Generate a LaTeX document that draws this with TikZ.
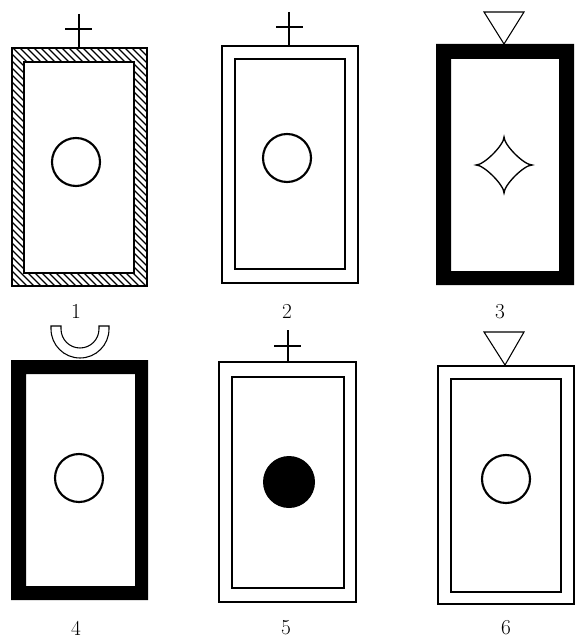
\documentclass[tikz,border=0pt]{standalone}
\usepackage{tikz}
\usetikzlibrary{arrows.meta,positioning,calc}
\tikzset{
  frameline/.style={line width=1.1pt},
  bead/.style={line width=1.6pt},
  marker/.style={line width=0.8pt},
  hatch/.style={line width=0.9pt},
  numlabel/.style={font=\fontsize{16}{19}\selectfont,inner sep=1pt}
}

\begin{document}
\begin{tikzpicture}[x=0.75pt,y=-0.75pt]
  \useasboundingbox (0,0) rectangle (583,641);
  % 1: hatched frame
  \begin{scope}
    \clip (12,48) rectangle (147,286);
    \foreach \k in {-301,-294,...,150}
      \draw[hatch] (\k,0) -- ++(320,320);
  \end{scope}
  \fill[white] (24,62) rectangle (134,273);
  \draw[frameline] (12,48) rectangle (147,286);
  \draw[frameline] (24,62) rectangle (134,273);
  \draw[bead] (76,162) circle (24);
  \draw[marker] (79,14) -- (79,48);
  \draw[marker] (65,29) -- (92,29);
  \node[numlabel] (lab1) at (76,311) {1};
  % 2: double frame
  \draw[frameline] (222,46) rectangle (358,283);
  \draw[frameline] (235,59) rectangle (345,269);
  \draw[bead] (287,158) circle (24);
  \draw[marker] (289,12) -- (289,46);
  \draw[marker] (276,27) -- (303,27);
  \node[numlabel] (lab2) at (287,311) {2};
  % 3: heavy frame, star
  \fill[even odd rule] (436,44) rectangle (574,285) (451,59) rectangle (559,271);
  \draw[line width=1pt] (476,165) .. controls (484,165) and (504,145) .. (504,137)
    .. controls (504,145) and (524,165) .. (532,165)
    .. controls (524,165) and (504,185) .. (504,193)
    .. controls (504,185) and (484,165) .. cycle;
  \draw[marker] (484,12) -- (524,12) -- (504,44) -- cycle;
  \node[numlabel] (lab3) at (500,312) {3};
  % 4: heavy frame, cup
  \fill[even odd rule] (11,360) rectangle (148,600) (26,374) rectangle (135,586);
  \draw[bead] (79,478) circle (24);
  \draw[marker] (51,326) -- (51,329) arc[start angle=180,end angle=0,radius=29]
    -- (109,326) -- (99,326) -- (99,329) arc[start angle=0,end angle=180,radius=19]
    -- (61,326) -- cycle;
  \node[numlabel] (lab4) at (76,628) {4};
  % 5: double frame, full dot
  \draw[frameline] (219,362) rectangle (356,602);
  \draw[frameline] (232,377) rectangle (344,588);
  \fill (289,482) circle (26);
  \draw[marker] (288,330) -- (288,362);
  \draw[marker] (274,346) -- (301,346);
  \node[numlabel] (lab5) at (286,628) {5};
  % 6: double frame, triangle
  \draw[frameline] (438,366) rectangle (574,604);
  \draw[frameline] (451,379) rectangle (561,592);
  \draw[bead] (506,479) circle (24);
  \draw[marker] (484,332) -- (524,332) -- (505,365) -- cycle;
  \node[numlabel] (lab6) at (506,628) {6};
\end{tikzpicture}
\end{document}
